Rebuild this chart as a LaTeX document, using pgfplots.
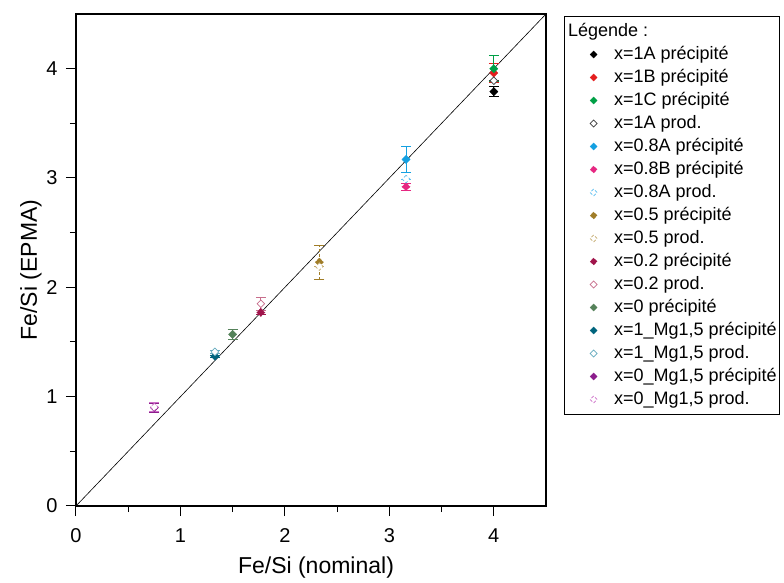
\documentclass[border=0pt]{standalone}
\usepackage{pgfplots}
\pgfplotsset{compat=1.18}
\usepackage{fontspec}
\setmainfont{Liberation Sans}
\definecolor{cblack}{RGB}{0,0,0}
\definecolor{cred}{RGB}{228,30,30}
\definecolor{cgreen}{RGB}{0,160,70}
\definecolor{cgray}{RGB}{60,60,60}
\definecolor{cblue}{RGB}{20,160,225}
\definecolor{cpink}{RGB}{230,40,130}
\definecolor{clblue}{RGB}{90,190,240}
\definecolor{cgold}{RGB}{160,125,40}
\definecolor{clgold}{RGB}{195,170,110}
\definecolor{ccrim}{RGB}{160,20,75}
\definecolor{clpink}{RGB}{200,110,140}
\definecolor{cgg}{RGB}{85,130,90}
\definecolor{cteal}{RGB}{0,100,125}
\definecolor{clteal}{RGB}{100,170,190}
\definecolor{cpurp}{RGB}{140,30,140}
\definecolor{clpurp}{RGB}{205,110,200}
\pgfplotsset{
  pfill/.style={only marks, mark=square*, mark size=2.9pt, color=#1, mark options={rotate=45, fill=#1, draw=#1, line width=0.4pt},
    error bars/.cd, y dir=both, y explicit, error bar style={color=#1, line width=0.8pt},
    error mark options={rotate=90, mark size=5pt, line width=0.8pt, color=#1}},
  popen/.style={only marks, mark=square*, mark size=2.7pt, color=#1, mark options={rotate=45, fill=white, draw=#1, line width=0.7pt},
    error bars/.cd, y dir=both, y explicit, error bar style={color=#1, line width=0.8pt},
    error mark options={rotate=90, mark size=5pt, line width=0.8pt, color=#1}},
}
\begin{document}
\begin{tikzpicture}
\begin{axis}[
  scale only axis, width=470pt, height=492pt,
  xmin=0, xmax=4.5, ymin=0, ymax=4.5,
  xtick={0,1,2,3,4}, ytick={0,1,2,3,4},
  minor xtick={0.5,1.5,2.5,3.5}, minor ytick={0.5,1.5,2.5,3.5},
  xtick pos=bottom, ytick pos=left,
  tick align=outside,
  major tick length=10pt, minor tick length=6pt,
  major tick style={black, line width=1pt},
  minor tick style={black, line width=1pt},
  axis line style={line width=1.1pt},
  /pgf/number format/assume math mode=true,
  ticklabel style={font=\fontsize{20}{24}\selectfont},
  xticklabel style={yshift=-9pt},
  yticklabel style={xshift=-5pt},
  xlabel={Fe/Si (nominal)}, ylabel={Fe/Si (EPMA)},
  label style={font=\fontsize{23}{26}\selectfont},
  xlabel style={at={(axis description cs:0.5,0)}, anchor=center, yshift=-62pt, xshift=5pt},
  ylabel style={at={(axis description cs:0,0.5)}, anchor=center, yshift=45pt, xshift=-10pt},
  legend style={at={(1.0383,0.9959)}, anchor=north west, draw=black, line width=1pt,
    font=\fontsize{18}{22}\selectfont, row sep=3pt, inner xsep=3pt, inner ysep=5pt,
    nodes={inner sep=0pt, text height=15pt, text depth=5pt},
    legend cell align=left, /tikz/every odd column/.append style={column sep=10pt}},
  legend image code/.code={\path (0,0) (1.25cm,0); \draw[#1, mark size=2.5pt, line width=0.6pt] plot coordinates {(0.9cm,0cm)};},
]
\addplot[black, line width=0.6pt, forget plot] coordinates {(0,0) (4.5,4.5)};
\addlegendimage{empty legend}
\addlegendentry{\hspace{-46pt}Légende :}
\addplot+[pfill=cblack] coordinates {(4,3.79) +- (0,0.045)};
\addlegendentry{x=1A précipité}
\addplot+[pfill=cred] coordinates {(4,3.96) +- (0,0.085)};
\addlegendentry{x=1B précipité}
\addplot+[pfill=cgreen] coordinates {(4,4.00) +- (0,0.12)};
\addlegendentry{x=1C précipité}
\addplot+[popen=cgray] coordinates {(4,3.89) +- (0,0.0)};
\addlegendentry{x=1A prod.}
\addplot+[pfill=cblue] coordinates {(3.16,3.17) +- (0,0.115)};
\addlegendentry{x=0.8A précipité}
\addplot+[pfill=cpink] coordinates {(3.16,2.92) +- (0,0.035)};
\addlegendentry{x=0.8B précipité}
\addplot+[popen=clblue] coordinates {(3.16,2.99) +- (0,0.0)};
\addlegendentry{x=0.8A prod.}
\addplot+[pfill=cgold] coordinates {(2.33,2.23) +- (0,0.155)};
\addlegendentry{x=0.5 précipité}
\addplot+[popen=clgold] coordinates {(2.33,2.19) +- (0,0.0)};
\addlegendentry{x=0.5 prod.}
\addplot+[pfill=ccrim] coordinates {(1.77,1.77) +- (0,0.02)};
\addlegendentry{x=0.2 précipité}
\addplot+[popen=clpink] coordinates {(1.77,1.85) +- (0,0.06)};
\addlegendentry{x=0.2 prod.}
\addplot+[pfill=cgg] coordinates {(1.5,1.57) +- (0,0.045)};
\addlegendentry{x=0 précipité}
\addplot+[pfill=cteal] coordinates {(1.33,1.37) +- (0,0.01)};
\addlegendentry{x=1\_Mg1,5 précipité}
\addplot+[popen=clteal] coordinates {(1.33,1.41) +- (0,0.01)};
\addlegendentry{x=1\_Mg1,5 prod.}
\addplot+[pfill=cpurp] coordinates {(0.75,0.90) +- (0,0.04)};
\addlegendentry{x=0\_Mg1,5 précipité}
\addplot+[popen=clpurp] coordinates {(0.75,0.905) +- (0,0.04)};
\addlegendentry{x=0\_Mg1,5 prod.}
\end{axis}
\path ([xshift=-76pt,yshift=14pt]current axis.north west);
\path ([xshift=238pt,yshift=-75pt]current axis.south east);
\end{tikzpicture}
\end{document}
